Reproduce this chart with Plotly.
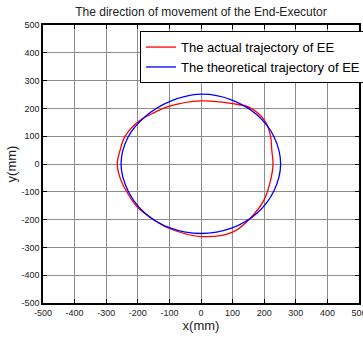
import plotly.graph_objects as go

# Actual trajectory of EE (red)
actual_x = [228, 224, 220, 204, 156, 100, 0, -100, -150, -198, -240, -256, -265, -256, -235, -203, -150, -100, 0, 100, 156, 200, 222, 228]
actual_y = [0, 50, 100, 152, 202, 217, 227, 208, 184, 153, 100, 50, 0, -50, -100, -153, -200, -232, -261, -245, -195, -128, -50, 0]

# Theoretical trajectory of EE (blue)
theo_x = [252, 231, 177, 96, 0, -96, -177, -231, -253, -231, -177, -96, 0, 96, 177, 231, 252]
theo_y = [0, 98, 177, 231, 251, 226, 170, 96, 0, -96, -177, -231, -250, -231, -177, -96, 0]

tick_vals = [-500, -400, -300, -200, -100, 0, 100, 200, 300, 400, 500]

fig = go.Figure()
fig.add_trace(go.Scatter(x=actual_x, y=actual_y, mode="lines",
                         line=dict(color="#ff0000", width=1.3, shape="spline", smoothing=1.0),
                         name="The actual trajectory of EE"))
fig.add_trace(go.Scatter(x=theo_x, y=theo_y, mode="lines",
                         line=dict(color="#0000ff", width=1.3, shape="spline", smoothing=1.0),
                         name="The theoretical trajectory of EE"))

axis_common = dict(
    range=[-500, 500], tickvals=tick_vals, ticktext=[str(v) for v in tick_vals],
    showgrid=True, gridcolor="#8c8c8c", gridwidth=1,
    showline=True, linecolor="black", linewidth=1.5, mirror="ticks",
    ticks="inside", ticklen=4, tickcolor="black", ticklabeloverflow="allow",
    zeroline=False, tickfont=dict(family="Liberation Sans, Arial", size=9, color="#222"),
)

fig.update_layout(
    width=363, height=338,
    margin=dict(l=43, r=4, t=25, b=35, autoexpand=False),
    paper_bgcolor="white", plot_bgcolor="white",
    title=dict(text="The direction of movement of the End-Executor",
               font=dict(family="Liberation Sans, Arial", size=12, color="#222"),
               x=(201) / 363, xanchor="center", y=1 - 12 / 338, yanchor="middle"),
    xaxis=dict(**axis_common, title=dict(text="x(mm)", standoff=4,
               font=dict(family="Liberation Sans, Arial", size=13, color="#222"))),
    yaxis=dict(**axis_common, title=dict(text="y(mm)", standoff=2,
               font=dict(family="Liberation Sans, Arial", size=13, color="#222"))),
    legend=dict(x=0.307, y=0.978, xanchor="left", yanchor="top",
                bgcolor="white", bordercolor="black", borderwidth=1,
                font=dict(family="Liberation Sans, Arial", size=13, color="black"),
                itemwidth=30, tracegroupgap=0),
    showlegend=True,
)

fig.write_html("out.html")
